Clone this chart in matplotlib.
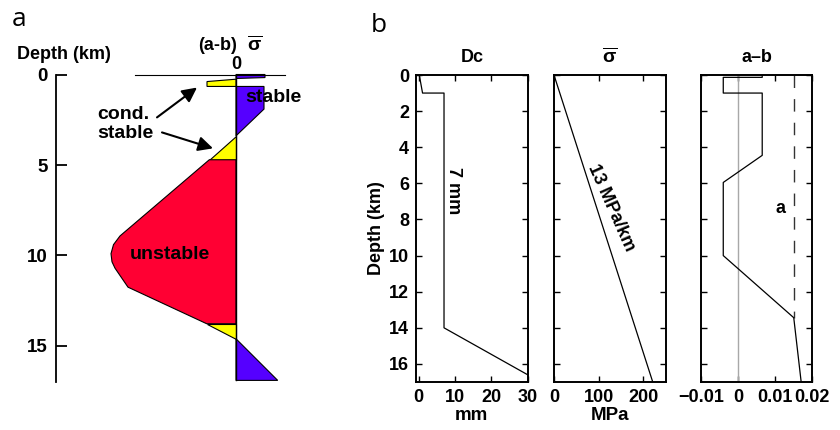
import numpy as np
import matplotlib
matplotlib.use("Agg")
import matplotlib.pyplot as plt

plt.rcParams['font.family'] = ['Liberation Sans', 'DejaVu Sans']
plt.rcParams['font.weight'] = 'bold'
plt.rcParams['axes.labelweight'] = 'bold'
plt.rcParams['axes.titleweight'] = 'bold'
plt.rcParams['mathtext.fontset'] = 'custom'
plt.rcParams['mathtext.rm'] = 'Liberation Sans:bold'
plt.rcParams['mathtext.it'] = 'Liberation Sans:bold'
plt.rcParams['mathtext.bf'] = 'Liberation Sans:bold'

# ---- panel a: schematic stability profile (x = relative (a-b) width, z = depth km)
sliver_stable_x = [0, 2.9, 2.9, 0]
sliver_stable_z = [0, 0, 0.17, 0.22]
sliver_cond_x = [-2.9, 0, 0, -2.9]
sliver_cond_z = [0.39, 0.26, 0.66, 0.66]
stable_top_x = [0, 2.8, 2.8, 0]
stable_top_z = [0.66, 0.66, 1.91, 3.39]
cond_top_x = [0, 0, -2.67]
cond_top_z = [3.39, 4.71, 4.71]
unstable_x = [-2.67, -11.6, -12.25, -12.5, -12.4, -12.1, -10.8, -2.93, 0, 0]
unstable_z = [4.71, 8.92, 9.4, 9.9, 10.35, 10.7, 11.75, 13.77, 13.77, 4.71]
cond_bot_x = [-2.93, 0, 0]
cond_bot_z = [13.77, 13.77, 14.6]
stable_bot_x = [0, 4.17, 0]
stable_bot_z = [14.6, 16.9, 16.9]
depth_ticks_a = [0, 5, 10, 15]

# ---- panel b: model parameters vs depth
dc_depth = [0, 1, 1, 14, 16.6]
dc_mm = [0.2, 1.1, 7, 7, 30]
sig_depth = [0, 17]
sig_mpa = [0, 221]
ab_depth = [0, 0.13, 0.13, 1, 1, 4.45, 5.95, 10.0, 13.44, 17]
ab_val = [0.0065, 0.0065, -0.004, -0.004, 0.0065, 0.0065, -0.004, -0.004, 0.015, 0.017]
a_depth = [0, 13.44]
a_val = [0.015, 0.015]
dc_ticks = [0, 10, 20, 30]
sig_ticks = [0, 100, 200]
ab_ticks = [-0.01, 0, 0.01, 0.02]
ab_ticklabels = ['\u22120.01', '0', '0.01', '0.02']
depth_ticks_b = list(range(0, 17, 2))

YELLOW = '#ffff00'
PURPLE = '#5500ff'
RED = '#ff0033'

fig = plt.figure(figsize=(8.4, 4.3), dpi=100)
W, H = 840, 430
top_px, bot_px = 74.5, 382.2


def px_axes(left, right):
    return fig.add_axes([left / W, (H - bot_px) / H, (right - left) / W, (bot_px - top_px) / H])


# ================= panel a =================
ax = px_axes(55.7, 300)
ax.set_xlim(-18.03, 6.4)
ax.set_ylim(17, 0)
for xs, zs, col in [(sliver_stable_x, sliver_stable_z, PURPLE),
                    (sliver_cond_x, sliver_cond_z, YELLOW),
                    (stable_top_x, stable_top_z, PURPLE),
                    (cond_top_x, cond_top_z, YELLOW),
                    (unstable_x, unstable_z, RED),
                    (cond_bot_x, cond_bot_z, YELLOW),
                    (stable_bot_x, stable_bot_z, PURPLE)]:
    ax.fill(xs, zs, facecolor=col, edgecolor='k', lw=0.8, clip_on=False)
ax.plot([-10.1, 4.9], [0, 0], color='k', lw=0.8, clip_on=False)
ax.plot([0, 0], [0, 16.9], color='k', lw=1.0, clip_on=False)

for s in ['top', 'right', 'bottom']:
    ax.spines[s].set_visible(False)
ax.spines['left'].set_linewidth(1.3)
ax.spines['left'].set_bounds(0, 17)
ax.set_xticks([])
ax.set_yticks(depth_ticks_a, [str(t) for t in depth_ticks_a], fontweight='bold')
ax.tick_params(axis='y', direction='in', length=8, width=1.3, pad=6, labelsize=13.5)
ax.patch.set_alpha(0)

ax.text(-17.25, -1.1, 'Depth (km)', ha='center', va='center', fontsize=13, clip_on=False)
ax.text(-1.8, -1.6, '(a-b)', ha='center', va='center', fontsize=13)
ax.text(1.9, -1.65, r'$\overline{\sigma}$', ha='center', va='center', fontsize=14)
ax.text(0, -0.55, '0', ha='center', va='center', fontsize=13)
ax.text(0.95, 1.27, 'stable', ha='left', va='center', fontsize=14)
ax.text(-6.6, 9.93, 'unstable', ha='center', va='center', fontsize=14)
ax.text(-13.9, 2.75, 'cond.\nstable', ha='left', va='center', fontsize=14, linespacing=1.15)
arrow = dict(arrowstyle='-|>', color='k', lw=1.5, mutation_scale=22, shrinkA=0, shrinkB=0)
ax.annotate('', xy=(-3.9, 0.72), xytext=(-7.9, 2.37), arrowprops=arrow)
ax.annotate('', xy=(-2.3, 4.08), xytext=(-7.4, 3.2), arrowprops=arrow)

# ================= panel b =================
top_px, bot_px = 75, 382
ax_dc = px_axes(416, 527.7)
ax_sig = px_axes(554, 665.7)
ax_ab = px_axes(701, 812.3)

ax_dc.plot(dc_mm, dc_depth, color='k', lw=0.9)
ax_dc.set_xlim(-0.7, 30)
ax_dc.set_xticks(dc_ticks, [str(t) for t in dc_ticks], fontweight='bold')
ax_dc.set_yticks(depth_ticks_b, [str(t) for t in depth_ticks_b], fontweight='bold')
ax_dc.set_xlabel('mm', fontsize=13.5, labelpad=1)
ax_dc.set_title('Dc', fontsize=13, pad=9)
ax_dc.set_ylabel('Depth (km)', fontsize=13, labelpad=3)
ax_dc.text(9.7, 6.4, '7 mm', rotation=-90, ha='center', va='center', fontsize=13)

ax_sig.plot(sig_mpa, sig_depth, color='k', lw=0.9)
ax_sig.set_xlim(0, 250)
ax_sig.set_xticks(sig_ticks, [str(t) for t in sig_ticks], fontweight='bold')
ax_sig.set_yticks(depth_ticks_b)
ax_sig.set_xlabel('MPa', fontsize=13.5, labelpad=1)
ax_sig.set_title(r'$\overline{\sigma}$', fontsize=14, pad=9)
ax_sig.text(128, 7.35, '13 MPa/km', rotation=-66, rotation_mode='anchor',
            ha='center', va='center', fontsize=13)

ax_ab.axvline(0, color='#a8a8a8', lw=1.0)
ax_ab.plot(a_val, a_depth, color='#333333', lw=1.0, dashes=(9, 8))
ax_ab.plot(ab_val, ab_depth, color='k', lw=0.9)
ax_ab.set_xlim(-0.01, 0.02)
ax_ab.set_xticks(ab_ticks, ab_ticklabels, fontweight='bold')
ax_ab.set_yticks(depth_ticks_b)
ax_ab.set_title('a\u2013b', fontsize=13, pad=9)
ax_ab.text(0.0115, 7.4, 'a', ha='center', va='center', fontsize=13)

for a in (ax_dc, ax_sig, ax_ab):
    a.set_ylim(17, 0)
    a.tick_params(direction='in', top=True, right=True, length=4, width=1.0, pad=5,
                  labelsize=13)
    for s in a.spines.values():
        s.set_linewidth(1.4)
ax_sig.tick_params(labelleft=False)
ax_ab.tick_params(labelleft=False)

fig.text(12 / W, 1 - 26 / H, 'a', fontsize=19, fontweight='normal', family='Open Sans',
         ha='left', va='baseline')
fig.text(371 / W, 1 - 32 / H, 'b', fontsize=19, fontweight='normal', family='Open Sans',
         ha='left', va='baseline')

fig.savefig('out.png', dpi=100)
